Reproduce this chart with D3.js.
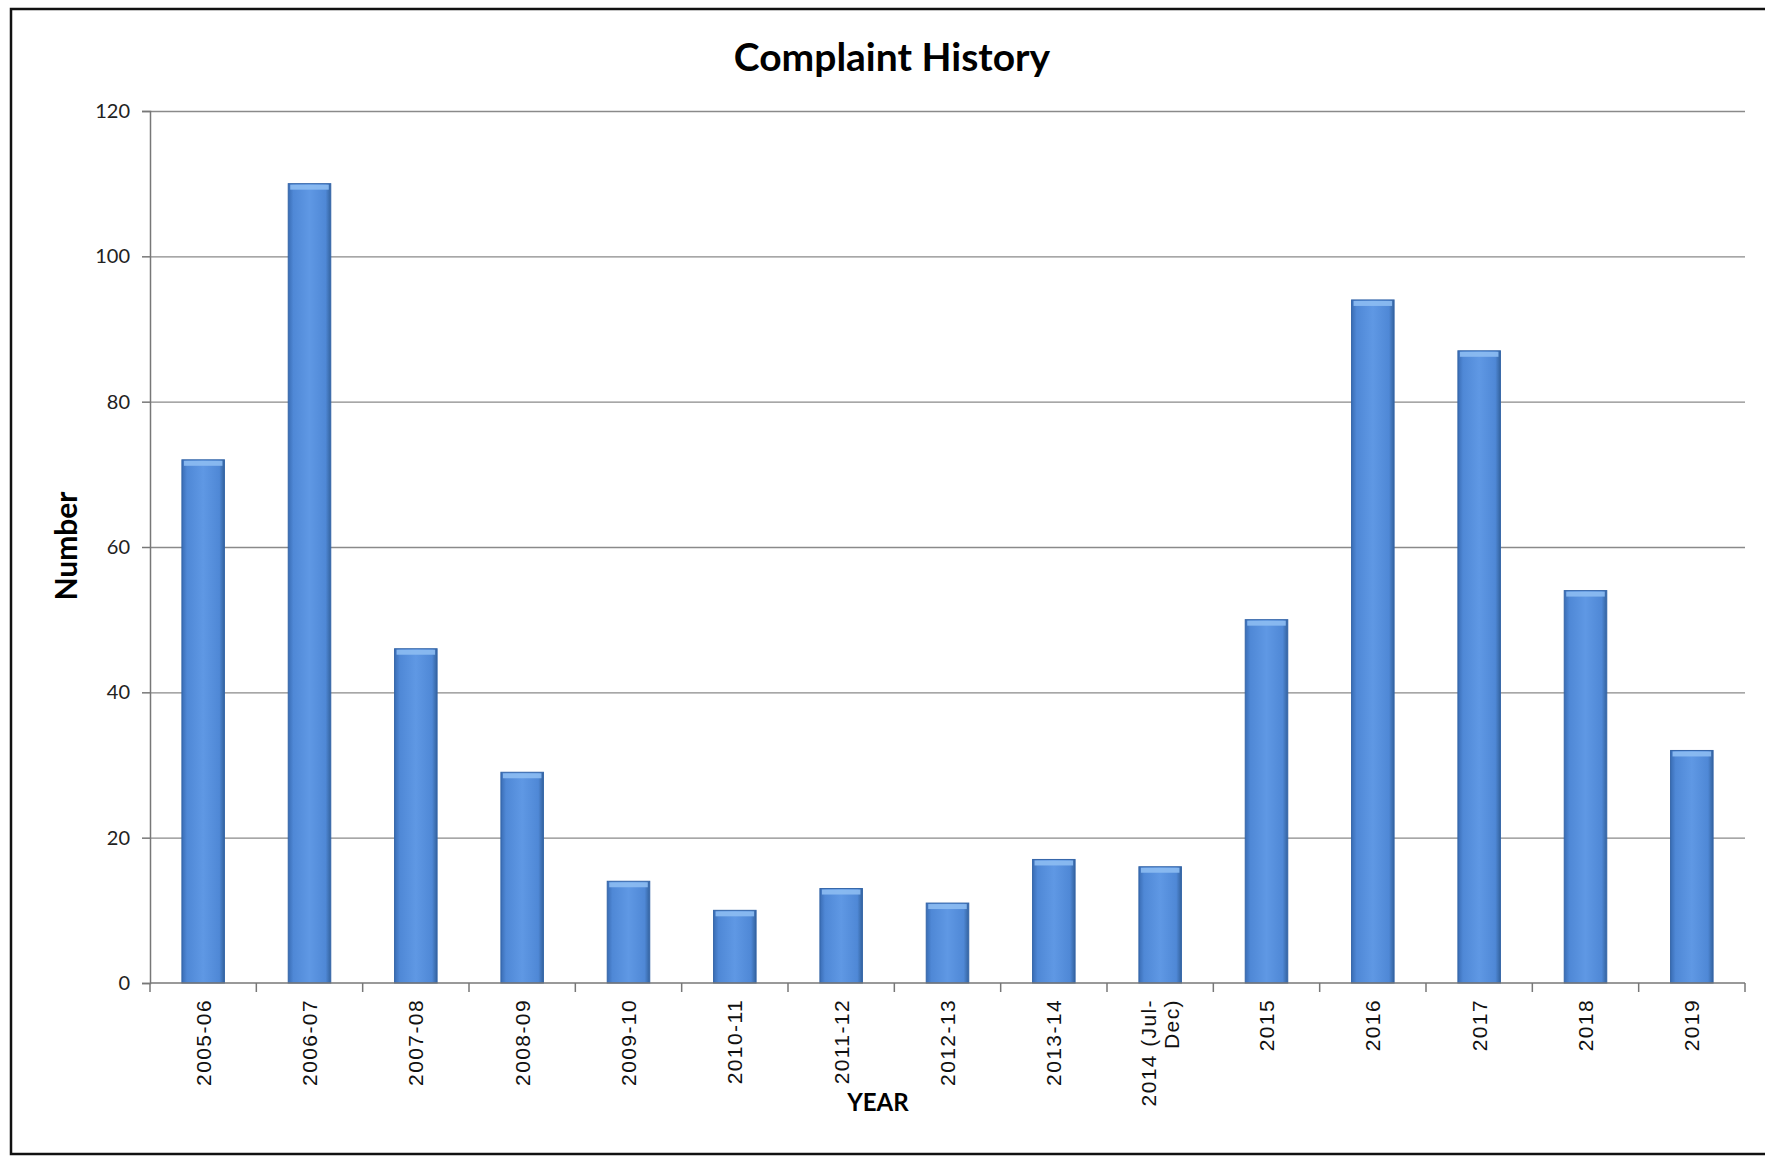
<!DOCTYPE html>
<meta charset="utf-8">
<head>
    <title>Complaint History</title>
    <script src="https://d3js.org/d3.v7.min.js"></script>
</head>

<style>
body { margin: 0; background: #ffffff; }
.title { font-family: Lato, "Open Sans", sans-serif; font-weight: bold; font-size: 39px; fill: #000; }
.axis-title { font-family: Lato, "Open Sans", sans-serif; font-weight: bold; fill: #000; }
.y_axis text { font-family: Lato, "Liberation Sans", sans-serif; font-size: 20px; fill: #222; }
.x_label { font-family: "Liberation Sans", Arial, sans-serif; font-size: 21px; letter-spacing: 1.4px; fill: #111; }
.grid line { stroke: #8a8a8a; stroke-width: 1.4; }
.grid path { display: none; }
</style>

<body>

<svg></svg>

<script>

// chart data
let categories = ["2005-06", "2006-07", "2007-08", "2008-09", "2009-10", "2010-11", "2011-12",
                  "2012-13", "2013-14", "2014 (Jul-Dec)", "2015", "2016", "2017", "2018", "2019"];
let complaints = [72, 110, 46, 29, 14, 10, 13, 11, 17, 16, 50, 94, 87, 54, 32];
let tickLabels = ["2005-06", "2006-07", "2007-08", "2008-09", "2009-10", "2010-11", "2011-12",
                  "2012-13", "2013-14", "2014 (Jul-\nDec)", "2015", "2016", "2017", "2018", "2019"];
let yTicks = [0, 20, 40, 60, 80, 100, 120];

let W = 1765, H = 1157;
let margin = {left: 150, right: 1745, top: 111, bottom: 983};

let svg = d3.select("svg")
    .attr("width", W)
    .attr("height", H);

// outer frame
svg.append("rect")
    .attr("x", 11).attr("y", 9)
    .attr("width", W + 10).attr("height", 1145)
    .attr("fill", "#fff")
    .attr("stroke", "#111")
    .attr("stroke-width", 2.5);

// bar gradient
let defs = svg.append("defs");
let grad = defs.append("linearGradient").attr("id", "barGrad")
    .attr("x1", "0%").attr("x2", "100%").attr("y1", "0%").attr("y2", "0%");
grad.append("stop").attr("offset", "0%").attr("stop-color", "#3a6db5");
grad.append("stop").attr("offset", "12%").attr("stop-color", "#4f88d6");
grad.append("stop").attr("offset", "50%").attr("stop-color", "#5f98e4");
grad.append("stop").attr("offset", "88%").attr("stop-color", "#4f88d6");
grad.append("stop").attr("offset", "100%").attr("stop-color", "#34639f");

let x = d3.scaleBand()
    .domain(categories)
    .range([margin.left, margin.right])
    .paddingInner(0.6)
    .paddingOuter(0.3);

let y = d3.scaleLinear()
    .domain([0, 120])
    .range([margin.bottom, margin.top]);

// gridlines
svg.append("g")
    .attr("class", "grid")
    .attr("transform", "translate(" + margin.left + ",0)")
    .call(d3.axisLeft(y).tickValues(yTicks.slice(1)).tickSize(-(margin.right - margin.left)).tickFormat(""));

// bars
let bars = svg.selectAll(".bar")
    .data(complaints)
    .enter().append("g")
    .attr("class", "bar");

bars.append("rect")
    .attr("x", (d, i) => x(categories[i]))
    .attr("y", d => y(d))
    .attr("width", x.bandwidth())
    .attr("height", d => margin.bottom - y(d))
    .attr("fill", "url(#barGrad)")
    .attr("stroke", "#3465a8")
    .attr("stroke-width", 1);

// light cap on top of each bar
bars.append("rect")
    .attr("x", (d, i) => x(categories[i]) + 2)
    .attr("y", d => y(d) + 1)
    .attr("width", x.bandwidth() - 4)
    .attr("height", 5)
    .attr("fill", "#8dbdf2")
    .attr("opacity", 0.9);

// y axis
let yAxis = svg.append("g")
    .attr("class", "y_axis")
    .attr("transform", "translate(" + margin.left + ",0)")
    .call(d3.axisLeft(y).tickValues(yTicks).tickSize(8).tickPadding(12));
yAxis.select(".domain").attr("stroke", "#777").attr("stroke-width", 1.5);
yAxis.selectAll(".tick line").attr("stroke", "#777").attr("stroke-width", 1.5);

// x axis line with ticks at category boundaries
let xAxis = svg.append("g").attr("class", "x_axis");
xAxis.append("line")
    .attr("x1", margin.left).attr("x2", margin.right)
    .attr("y1", margin.bottom).attr("y2", margin.bottom)
    .attr("stroke", "#777").attr("stroke-width", 1.5);
let bounds = categories.map(c => x(c) - x.step() * 0.3).concat([margin.right]);
xAxis.selectAll(".xtick")
    .data(bounds)
    .enter().append("line")
    .attr("x1", d => d).attr("x2", d => d)
    .attr("y1", margin.bottom).attr("y2", margin.bottom + 9)
    .attr("stroke", "#777").attr("stroke-width", 1.5);

// rotated category labels
categories.forEach(function(c, i) {
  let lines = tickLabels[i].split("\n");
  let cx = x(c) + x.bandwidth() / 2;
  let t = xAxis.append("text")
      .attr("class", "x_label")
      .attr("text-anchor", "end")
      .attr("transform", "translate(" + cx + "," + (margin.bottom + 16) + ") rotate(-90)");
  lines.forEach(function(l, j) {
    t.append("tspan")
      .attr("x", 0)
      .attr("dy", j === 0 ? (lines.length > 1 ? "-0.2em" : "0.36em") : "1.1em")
      .text(l);
  });
});

// title
svg.append("text")
    .attr("class", "title")
    .attr("x", 892)
    .attr("y", 71)
    .attr("text-anchor", "middle")
    .text("Complaint History");

// axis titles
svg.append("text")
    .attr("class", "axis-title")
    .attr("font-size", "30px")
    .attr("text-anchor", "middle")
    .attr("transform", "translate(77,546) rotate(-90)")
    .text("Number");

svg.append("text")
    .attr("class", "axis-title")
    .attr("font-size", "24px")
    .attr("text-anchor", "middle")
    .attr("x", 878)
    .attr("y", 1111)
    .text("YEAR");

</script>

</body>
